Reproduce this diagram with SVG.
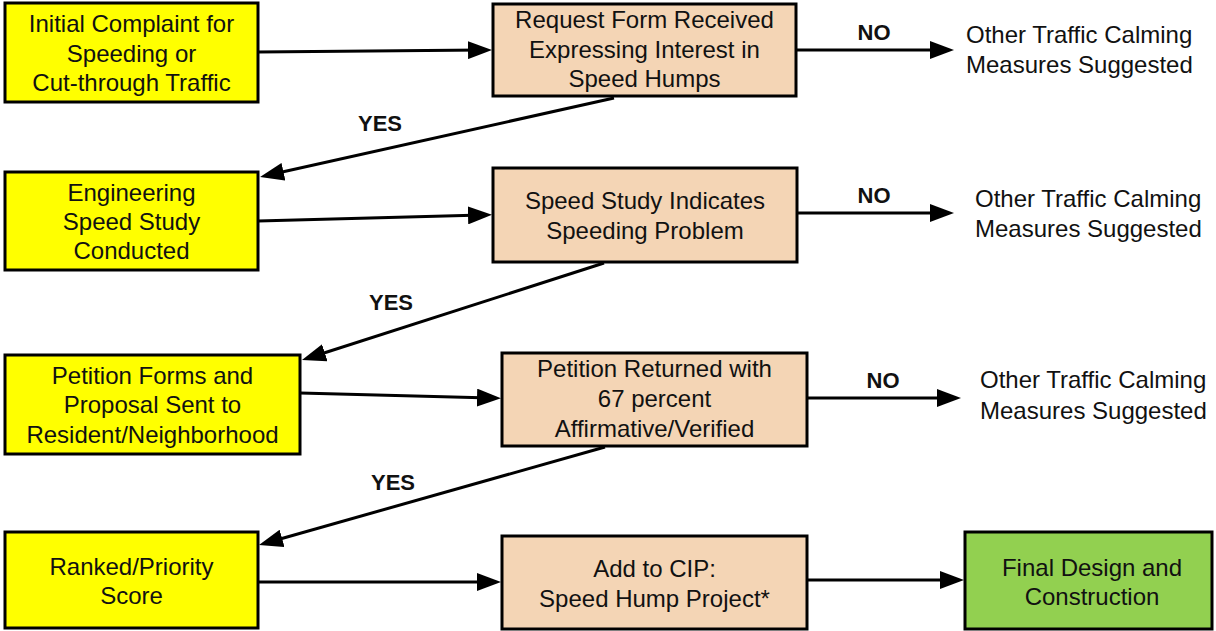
<svg xmlns="http://www.w3.org/2000/svg" width="1216" height="631" viewBox="0 0 1216 631">
<style>
.box{stroke:#000;stroke-width:3}
.y{fill:#FFFF00}
.t{fill:#F4D5B5}
.g{fill:#92D050}
text{font-family:"Liberation Sans",Arial,sans-serif;font-size:24px;fill:#111}
.c{text-anchor:middle}
.lbl{font-weight:bold;font-size:22px;text-anchor:middle}
.conn{stroke:#000;stroke-width:3;fill:none;marker-end:url(#ah)}
</style>
<defs>
<marker id="ah" markerUnits="userSpaceOnUse" markerWidth="24" markerHeight="18" refX="14" refY="9" orient="auto">
<path d="M0,0 L24,9 L0,18 z" fill="#000"/>
</marker>
</defs>
<rect width="1216" height="631" fill="#fff"/>
<g id="n1"><rect class="box y" x="5" y="3" width="253" height="99"/>
<text class="c" x="131.5" y="32">Initial Complaint for</text>
<text class="c" x="131.5" y="62">Speeding or</text>
<text class="c" x="131.5" y="91">Cut-through Traffic</text></g>
<g id="n2"><rect class="box y" x="5" y="172" width="253" height="98"/>
<text class="c" x="131.5" y="201">Engineering</text>
<text class="c" x="131.5" y="230">Speed Study</text>
<text class="c" x="131.5" y="259">Conducted</text></g>
<g id="n3"><rect class="box y" x="5" y="355" width="295" height="99"/>
<text class="c" x="152.5" y="384">Petition Forms and</text>
<text class="c" x="152.5" y="413">Proposal Sent to</text>
<text class="c" x="152.5" y="443">Resident/Neighborhood</text></g>
<g id="n4"><rect class="box y" x="5" y="532" width="253" height="96"/>
<text class="c" x="131.5" y="575">Ranked/Priority</text>
<text class="c" x="131.5" y="604">Score</text></g>
<g id="d1"><rect class="box t" x="493" y="4" width="303" height="92"/>
<text class="c" x="644.5" y="28">Request Form Received</text>
<text class="c" x="644.5" y="58">Expressing Interest in</text>
<text class="c" x="644.5" y="87">Speed Humps</text></g>
<g id="d2"><rect class="box t" x="493" y="168" width="304" height="94"/>
<text class="c" x="645" y="209">Speed Study Indicates</text>
<text class="c" x="645" y="239">Speeding Problem</text></g>
<g id="d3"><rect class="box t" x="502" y="353" width="305" height="93"/>
<text class="c" x="654.5" y="377">Petition Returned with</text>
<text class="c" x="654.5" y="407">67 percent</text>
<text class="c" x="654.5" y="437">Affirmative/Verified</text></g>
<g id="d4"><rect class="box t" x="502" y="536" width="305" height="93"/>
<text class="c" x="654.5" y="577">Add to CIP:</text>
<text class="c" x="654.5" y="607">Speed Hump Project*</text></g>
<g id="final"><rect class="box g" x="965" y="532" width="247" height="97"/>
<text class="c" x="1092" y="576">Final Design and</text>
<text class="c" x="1092" y="605">Construction</text></g>
<g id="o1"><text x="966" y="43">Other Traffic Calming</text>
<text x="966" y="73">Measures Suggested</text></g>
<g id="o2"><text x="975" y="207">Other Traffic Calming</text>
<text x="975" y="237">Measures Suggested</text></g>
<g id="o3"><text x="980" y="388">Other Traffic Calming</text>
<text x="980" y="419">Measures Suggested</text></g>
<g id="connectors">
<line class="conn" x1="258" y1="52" x2="482" y2="50"/>
<line class="conn" x1="258" y1="221" x2="482" y2="215"/>
<line class="conn" x1="300" y1="393" x2="491" y2="398"/>
<line class="conn" x1="258" y1="582" x2="491" y2="582"/>
<line class="conn" x1="796" y1="50" x2="944" y2="50"/>
<line class="conn" x1="797" y1="213" x2="944" y2="213"/>
<line class="conn" x1="807" y1="398" x2="951" y2="398"/>
<line class="conn" x1="807" y1="580" x2="954" y2="580"/>
<line class="conn" x1="614" y1="98" x2="269.8" y2="174.8"/>
<line class="conn" x1="604" y1="263" x2="311.5" y2="357"/>
<line class="conn" x1="605" y1="447" x2="268.6" y2="542.2"/>
<text class="lbl" x="874" y="40">NO</text>
<text class="lbl" x="874" y="203">NO</text>
<text class="lbl" x="883" y="388">NO</text>
<text class="lbl" x="380" y="131">YES</text>
<text class="lbl" x="391" y="310">YES</text>
<text class="lbl" x="393" y="490">YES</text>
</g>
</svg>
